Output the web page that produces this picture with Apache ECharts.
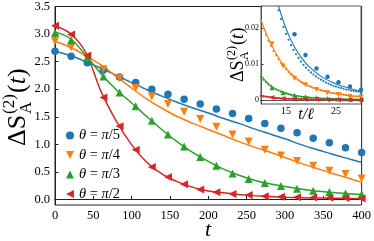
<!DOCTYPE html>
<html><head><meta charset="utf-8">
<script src="https://cdn.jsdelivr.net/npm/echarts@6/dist/echarts.min.js"></script>
<style>html,body{margin:0;padding:0;background:#fff}#c{width:374px;height:241px}</style>
</head><body><div id="c"></div>
<script>
// ---- main panel data ----
const labels = ['θ = π/5', 'θ = π/4', 'θ = π/3', 'θ = π/2'];
const colors = ['#1f77b4', '#ff7f0e', '#2ca02c', '#d62728'];
const tPoints = [0, 21.05, 42.11, 63.16, 84.21, 105.26, 126.32, 147.37, 168.42, 189.47, 210.53, 231.58, 252.63, 273.68, 294.74, 315.79, 336.84, 357.89, 378.95, 400];
const bluePts   = [2.69, 2.60, 2.48, 2.35, 2.22, 2.12, 2.00, 1.91, 1.82, 1.73, 1.64, 1.56, 1.47, 1.38, 1.29, 1.21, 1.11, 1.03, 0.94, 0.85];
const orangePts = [2.87, 2.76, 2.56, 2.36, 2.20, 2.02, 1.87, 1.73, 1.59, 1.46, 1.32, 1.18, 1.05, 0.90, 0.80, 0.70, 0.61, 0.52, 0.46, 0.38];
const greenPts  = [3.02, 2.89, 2.57, 2.23, 1.94, 1.69, 1.43, 1.18, 0.96, 0.77, 0.61, 0.47, 0.37, 0.30, 0.245, 0.195, 0.16, 0.135, 0.11, 0.094];
const redPts    = [3.15, 2.99, 2.61, 1.85, 1.33, 0.90, 0.59, 0.41, 0.275, 0.18, 0.13, 0.10, 0.08, 0.06, 0.05, 0.04, 0.035, 0.03, 0.025, 0.02];

const lineT      = [0, 20, 40, 60, 80, 100, 120, 140, 160, 180, 200, 220, 240, 260, 280, 300, 320, 340, 360, 380, 400];
const blueLine   = [2.69, 2.61, 2.50, 2.38, 2.25, 2.12, 1.99, 1.87, 1.76, 1.66, 1.57, 1.47, 1.38, 1.28, 1.19, 1.10, 1.00, 0.91, 0.83, 0.75, 0.67];
const orangeLine = [2.87, 2.76, 2.61, 2.44, 2.23, 2.02, 1.82, 1.65, 1.50, 1.38, 1.27, 1.16, 1.05, 0.95, 0.86, 0.76, 0.66, 0.57, 0.48, 0.40, 0.31];
const greenLine  = [3.04, 2.92, 2.62, 2.28, 1.99, 1.75, 1.50, 1.26, 1.04, 0.85, 0.69, 0.55, 0.44, 0.35, 0.285, 0.235, 0.19, 0.155, 0.13, 0.11, 0.09];
const redLine    = [3.15, 3.01, 2.67, 1.96, 1.42, 0.99, 0.67, 0.46, 0.32, 0.22, 0.155, 0.12, 0.09, 0.07, 0.055, 0.04, 0.03, 0.027, 0.023, 0.02, 0.015];

const xTicks = [0, 50, 100, 150, 200, 250, 300, 350, 400];
const yTicks = [0, 0.5, 1.0, 1.5, 2.0, 2.5, 3.0, 3.5];

// ---- inset data ----
const insetXTicks = [15, 25];
const insetYTicks = [0, 0.01, 0.02];
const insetMarkT = [12.2, 14.4, 16.7, 18.9, 21.1, 23.3, 25.5, 27.8, 30.0];
const insetBlueMark   = [null, null, 0.0182, 0.0125, 0.0088, 0.0065, 0.0050, 0.0038, 0.0029];
const insetOrangeMark = [0.0156, 0.0095, 0.0061, 0.0043, 0.0030, 0.0021, 0.0016, 0.0011, 0.0009];
const insetGreenMark  = [0.0035, 0.0021, 0.0014, 0.0010, 0.0007, 0.0005, 0.0004, 0.0003, 0.0003];
const insetRedMark    = [0.0008, 0.0005, 0.0004, 0.0003, 0.0003, 0.0002, 0.0002, 0.0002, 0.0002];

const insetLineT = [10, 11, 12, 13, 14, 15, 16, 17, 18, 19, 20, 22, 24, 26, 28, 30];
const insetBlueLine   = [null, null, null, 0.0285, 0.0238, 0.0198, 0.0166, 0.0140, 0.0119, 0.0102, 0.0088, 0.0066, 0.0051, 0.0040, 0.0032, 0.0025];
const insetOrangeLine = [0.0222, 0.0185, 0.0155, 0.0129, 0.0107, 0.0089, 0.0074, 0.0062, 0.0052, 0.0044, 0.0038, 0.0028, 0.0021, 0.0016, 0.0012, 0.0010];
const insetGreenLine  = [0.0068, 0.0052, 0.0040, 0.0031, 0.0025, 0.0020, 0.0016, 0.0013, 0.0011, 0.0009, 0.0008, 0.0006, 0.0005, 0.0004, 0.0003, 0.0003];
const insetRedLine    = [0.0013, 0.0011, 0.0009, 0.0007, 0.0006, 0.0005, 0.0005, 0.0004, 0.0004, 0.0003, 0.0003, 0.0003, 0.0002, 0.0002, 0.0002, 0.0002];

const insetDotT = [10, 10.5, 11, 11.5, 12, 12.5, 13, 13.5, 14, 14.5, 15, 15.5, 16, 16.5, 17, 17.5, 18, 18.5, 19, 19.5, 20, 20.5, 21, 21.5, 22, 22.5, 23, 23.5, 24, 24.5, 25, 25.5, 26, 26.5, 27, 27.5, 28, 28.5, 29, 29.5, 30];
const insetBlueDot   = [null, null, null, null, null, null, 0.0262, 0.0248, 0.0224, 0.0202, 0.0183, 0.0167, 0.0152, 0.0139, 0.0127, 0.0117, 0.0107, 0.0098, 0.0090, 0.0083, 0.0077, 0.0071, 0.0066, 0.0061, 0.0057, 0.0053, 0.0049, 0.0046, 0.0043, 0.0040, 0.0038, 0.0036, 0.0034, 0.0032, 0.0030, 0.0029, 0.0027, 0.0026, 0.0025, 0.0024, 0.0023];
const insetOrangeDot = [0.0218, 0.0198, 0.0180, 0.0164, 0.0150, 0.0136, 0.0124, 0.0113, 0.0103, 0.0094, 0.0086, 0.0078, 0.0071, 0.0065, 0.0060, 0.0055, 0.0050, 0.0046, 0.0043, 0.0040, 0.0037, 0.0034, 0.0032, 0.0030, 0.0028, 0.0026, 0.0024, 0.0023, 0.0021, 0.0020, 0.0019, 0.0018, 0.0017, 0.0016, 0.0015, 0.0014, 0.0013, 0.0012, 0.0012, 0.0011, 0.0010];
const insetGreenDot  = [0.0065, 0.0057, 0.0050, 0.0044, 0.0039, 0.0034, 0.0030, 0.0027, 0.0024, 0.0021, 0.0019, 0.0017, 0.0015, 0.0014, 0.0012, 0.0011, 0.0010, 0.0009, 0.0009, 0.0008, 0.0007, 0.0007, 0.0006, 0.0006, 0.0005, 0.0005, 0.0005, 0.0004, 0.0004, 0.0004, 0.0004, 0.0003, 0.0003, 0.0003, 0.0003, 0.0003, 0.0003, 0.0002, 0.0002, 0.0002, 0.0002];
const insetRedDot    = [0.0013, 0.0011, 0.0010, 0.0009, 0.0008, 0.0007, 0.0006, 0.0006, 0.0005, 0.0005, 0.0004, 0.0004, 0.0004, 0.0003, 0.0003, 0.0003, 0.0003, 0.0003, 0.0002, 0.0002, 0.0002, 0.0002, 0.0002, 0.0002, 0.0002, 0.0002, 0.0002, 0.0002, 0.0002, 0.0002, 0.0002, 0.0001, 0.0001, 0.0001, 0.0001, 0.0001, 0.0001, 0.0001, 0.0001, 0.0001, 0.0001];

// ---- build ----
const FONT = "'Liberation Serif', 'DejaVu Serif', serif";
const SYM = ['circle', 'path://M0,0L2,0L1,2Z', 'path://M1,0L2,2L0,2Z', 'path://M2,0L2,2L0,1Z'];
const pairs = (xs, ys) => xs.map((x, i) => [x, ys[i]]).filter(p => p[1] != null);

const mainPts = [bluePts, orangePts, greenPts, redPts];
const mainLines = [blueLine, orangeLine, greenLine, redLine];
const insMarks = [insetBlueMark, insetOrangeMark, insetGreenMark, insetRedMark];
const insLines = [insetBlueLine, insetOrangeLine, insetGreenLine, insetRedLine];
const insDots = [insetBlueDot, insetOrangeDot, insetGreenDot, insetRedDot];

const series = [];
for (let k = 0; k < 4; k++) {
  series.push({type: 'line', xAxisIndex: 0, yAxisIndex: 0, data: pairs(lineT, mainLines[k]),
    smooth: 0.3, showSymbol: false, silent: true, z: 2,
    lineStyle: {color: colors[k], width: 1.5}});
}
for (let k = 0; k < 4; k++) {
  series.push({type: 'scatter', name: labels[k], xAxisIndex: 0, yAxisIndex: 0, data: pairs(tPoints, mainPts[k]),
    symbol: SYM[k], symbolSize: k === 0 ? 7.5 : 8, z: 3, itemStyle: {color: colors[k], opacity: 1}});
}
for (let k = 0; k < 4; k++) {
  series.push({type: 'line', name: 'il' + k, xAxisIndex: 1, yAxisIndex: 1, data: pairs(insetLineT, insLines[k]),
    smooth: 0.3, showSymbol: false, silent: true, z: 6,
    lineStyle: {color: colors[k], width: 1.1}});
  series.push({type: 'scatter', name: 'id' + k, xAxisIndex: 1, yAxisIndex: 1, data: pairs(insetDotT, insDots[k]),
    symbol: 'circle', symbolSize: 2.2, z: 7, itemStyle: {color: colors[k], opacity: 1}});
  series.push({type: 'scatter', name: 'im' + k, xAxisIndex: 1, yAxisIndex: 1, data: pairs(insetMarkT, insMarks[k]),
    symbol: SYM[k], symbolSize: k === 0 ? 4.5 : 5, z: 8, itemStyle: {color: colors[k], opacity: 1}});
}

const txt = (text, x, y, size, italic, extra) => Object.assign({type: 'text', x, y, silent: true,
  style: {text, fill: '#000', fontFamily: FONT, fontSize: size, fontStyle: italic ? 'italic' : 'normal',
    align: 'left', verticalAlign: 'middle'}}, extra || {});

const chart = echarts.init(document.getElementById('c'), null, {renderer: 'canvas'});
chart.setOption({
  animation: false,
  backgroundColor: '#fff',
  grid: [
    {left: 55, top: 5.5, width: 307, height: 199.5, show: true, borderColor: '#222', borderWidth: 1, backgroundColor: 'transparent'},
    {left: 261, top: 6, width: 100, height: 98, show: true, borderColor: '#555', borderWidth: 1, backgroundColor: '#fff', z: 5}
  ],
  xAxis: [
    {gridIndex: 0, type: 'value', min: 0, max: 400, interval: 50,
      axisLine: {show: true, lineStyle: {color: '#222', width: 1}},
      axisTick: {show: true, inside: true, length: 3.5, lineStyle: {color: '#222'}},
      axisLabel: {color: '#000', fontFamily: FONT, fontSize: 12.5, margin: 4},
      splitLine: {show: false}},
    {gridIndex: 1, type: 'value', min: 10, max: 30, z: 6,
      axisLine: {show: true, lineStyle: {color: '#555', width: 1}},
      axisTick: {show: true, inside: true, length: 2.5, customValues: insetXTicks, lineStyle: {color: '#333'}},
      axisLabel: {customValues: insetXTicks, color: '#000', fontFamily: FONT, fontSize: 10, margin: 2},
      splitLine: {show: false}}
  ],
  yAxis: [
    {gridIndex: 0, type: 'value', min: -0.1, max: 3.5,
      axisLine: {show: true, lineStyle: {color: '#222', width: 1}},
      axisTick: {show: true, inside: true, length: 3.5, customValues: yTicks, lineStyle: {color: '#222'}},
      axisLabel: {customValues: yTicks, formatter: v => Number(v).toFixed(1), color: '#000', fontFamily: FONT, fontSize: 12.5, margin: 5},
      splitLine: {show: false}},
    {gridIndex: 1, type: 'value', min: -0.001, max: 0.026, z: 6,
      axisLine: {show: true, lineStyle: {color: '#555', width: 1}},
      axisTick: {show: true, inside: true, length: 2.5, customValues: insetYTicks, lineStyle: {color: '#333'}},
      axisLabel: {customValues: insetYTicks, formatter: v => (Math.abs(v) < 1e-9 ? '0' : String(Number(v).toFixed(2))), color: '#000', fontFamily: FONT, fontSize: 8, margin: 2},
      splitLine: {show: false}}
  ],
  legend: {
    data: labels, orient: 'vertical', left: 61, top: 123, itemWidth: 8, itemHeight: 8, itemGap: 4.5,
    formatter: n => n.replace('θ', '{i|θ}').replace('π', '{i|π}'),
    textStyle: {color: '#000', fontFamily: FONT, fontSize: 14.5, lineHeight: 14,
      rich: {i: {fontStyle: 'italic', fontFamily: FONT, fontSize: 14.5, lineHeight: 14, color: '#000'}}}
  },
  series,
  graphic: [
    {type: 'group', x: 26.5, y: 146, rotation: Math.PI / 2, silent: true, children: [
      txt('ΔS', 0, -8.8, 26, false),
      txt('A', 32, 0.2, 17, false),
      txt('(2)', 32, -17.3, 17, false),
      txt('(', 53, -8.8, 26, false),
      txt('t', 61.7, -8.8, 26, true),
      txt(')', 69, -8.8, 26, false)
    ]},
    {type: 'group', x: 244.5, y: 82, rotation: Math.PI / 2, silent: true, z: 10, children: [
      txt('ΔS', 0, -6.1, 18, false),
      txt('A', 22, 0.1, 12, false),
      txt('(2)', 22, -12.2, 12, false),
      txt('(', 37, -6.1, 18, false),
      txt('t', 43, -6.1, 18, true),
      txt(')', 48.5, -6.1, 18, false)
    ]},
    txt('t', 208, 230, 22, true, {style: {text: 't', fill: '#000', fontFamily: FONT, fontSize: 22, fontStyle: 'italic', align: 'center', verticalAlign: 'middle'}}),
    txt('t/ℓ', 306, 115, 16, true, {z: 10, style: {text: 't/ℓ', fill: '#000', fontFamily: FONT, fontSize: 16, fontStyle: 'italic', align: 'center', verticalAlign: 'middle'}})
  ]
});
</script></body></html>
